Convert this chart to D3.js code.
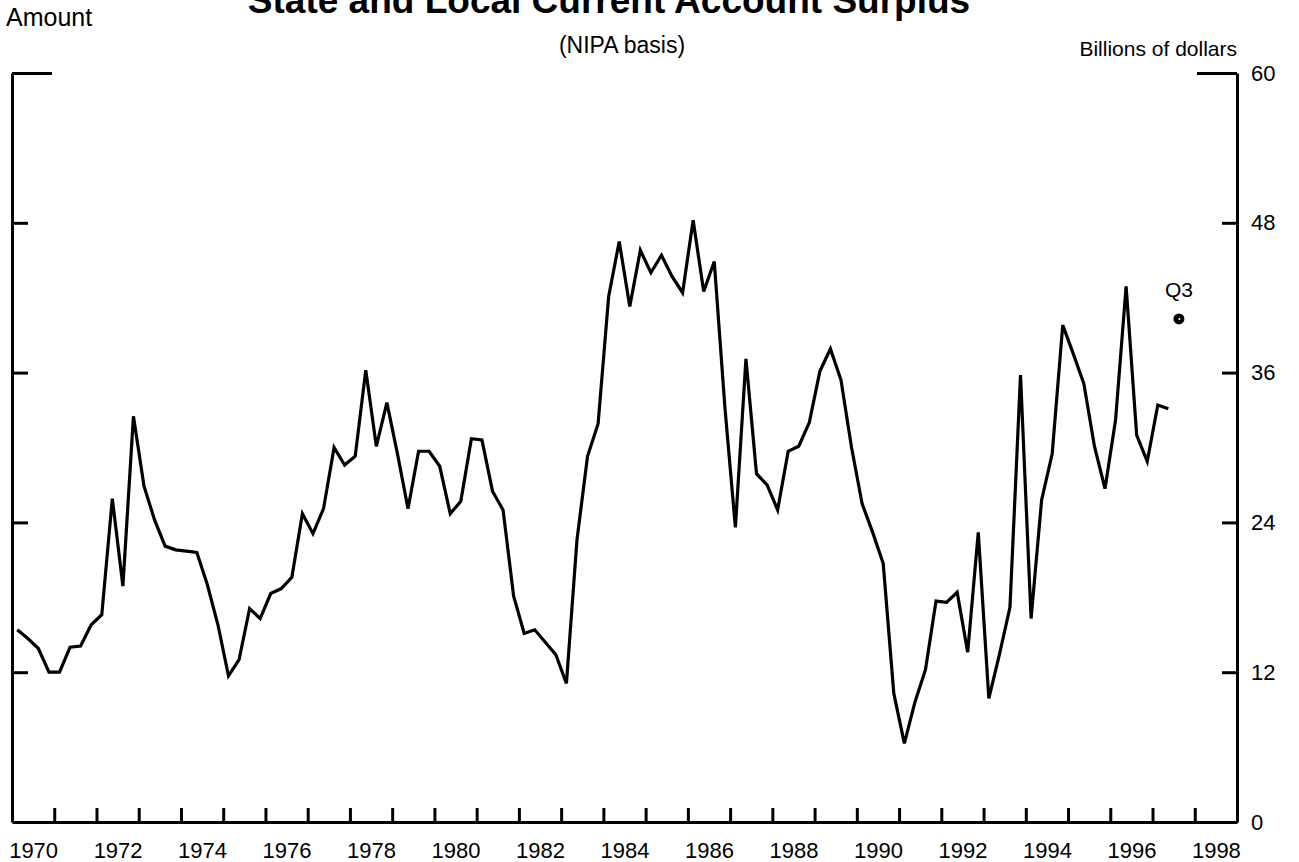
<!DOCTYPE html>
<html>
<head>
<meta charset="utf-8">
<script src="https://cdn.jsdelivr.net/npm/d3@7"></script>
<style>
  body { margin: 0; background: #fff; }
  svg { display: block; font-family: "Liberation Sans", Arial, Helvetica, sans-serif; }
</style>
</head>
<body>
<div id="chart"></div>
<script>
// quarterly surplus, billions of dollars, 1970Q1 .. 1997Q2
const firstYear = 1970;
const surplus = [
  15.4, 14.7, 13.9, 12.0,   // 1970
  12.0, 14.0, 14.1, 15.8,   // 1971
  16.6, 25.9, 18.9, 32.5,   // 1972
  26.9, 24.2, 22.1, 21.8,   // 1973
  21.7, 21.6, 19.0, 15.8,   // 1974
  11.7, 13.0, 17.1, 16.3,   // 1975
  18.3, 18.7, 19.6, 24.7,   // 1976
  23.1, 25.1, 30.0, 28.6,   // 1977
  29.3, 36.2, 30.1, 33.6,   // 1978
  29.5, 25.1, 29.7, 29.7,   // 1979
  28.5, 24.7, 25.7, 30.7,   // 1980
  30.6, 26.5, 25.0, 18.1,   // 1981
  15.1, 15.4, 14.4, 13.4,   // 1982
  11.1, 22.6, 29.3, 31.9,   // 1983
  42.1, 46.5, 41.3, 45.8,   // 1984
  44.0, 45.4, 43.7, 42.4,   // 1985
  48.2, 42.5, 44.9, 33.3,   // 1986
  23.6, 37.1, 27.9, 27.0,   // 1987
  25.0, 29.7, 30.1, 32.0,   // 1988
  36.1, 37.9, 35.4, 30.0,   // 1989
  25.5, 23.2, 20.7, 10.3,   // 1990
  6.3, 9.6, 12.2, 17.7,     // 1991
  17.6, 18.4, 13.6, 23.2,   // 1992
  9.9, 13.4, 17.2, 35.8,    // 1993
  16.3, 25.8, 29.5, 39.8,   // 1994
  37.5, 35.1, 30.1, 26.7,   // 1995
  32.2, 42.9, 31.0, 28.9,   // 1996
  33.4, 33.1                // 1997
];

// partial-year point
const q3Label = "Q3";
const q3Year = 1997;
const q3Quarter = 3;
const q3Value = 40.3;

const yearLabels = [1970, 1972, 1974, 1976, 1978, 1980, 1982, 1984, 1986, 1988, 1990, 1992, 1994, 1996, 1998];
const yearTicks = d3.range(1971, 1999);
const yTicks = [0, 12, 24, 36, 48, 60];

const width = 1299, height = 862;

const svg = d3.select("#chart")
  .append("svg")
  .attr("width", width)
  .attr("height", height);

const x = d3.scaleLinear()
  .domain([1970, 1999])
  .range([12, 1237]);

const y = d3.scaleLinear()
  .domain([0, 60])
  .range([822, 73]);

const qTime = (year, q) => year + (q - 0.5) / 4;

const data = surplus.map((v, i) => ({
  t: qTime(firstYear + Math.floor(i / 4), (i % 4) + 1),
  v: v
}));

// titles (top of the title is cut off in the original)
svg.append("text")
  .attr("x", 609)
  .attr("y", 13)
  .attr("text-anchor", "middle")
  .attr("font-size", 37)
  .attr("font-weight", "bold")
  .text("State and Local Current Account Surplus");

svg.append("text")
  .attr("x", 622)
  .attr("y", 53)
  .attr("text-anchor", "middle")
  .attr("font-size", 23)
  .text("(NIPA basis)");

svg.append("text")
  .attr("x", 6)
  .attr("y", 26)
  .attr("font-size", 25)
  .text("Amount");

svg.append("text")
  .attr("x", 1237)
  .attr("y", 56)
  .attr("text-anchor", "end")
  .attr("font-size", 21)
  .text("Billions of dollars");

// x axis: year ticks pointing up, labels centred in year
svg.append("g")
  .attr("transform", "translate(0,822)")
  .call(d3.axisBottom(x)
    .tickValues(yearTicks)
    .tickSizeInner(-14)
    .tickSizeOuter(0)
    .tickFormat(""));

svg.append("g")
  .attr("transform", "translate(0,822)")
  .call(d3.axisBottom(x)
    .tickValues(yearLabels.map(d => d + 0.5))
    .tickSize(0)
    .tickPadding(20)
    .tickFormat(d => String(Math.floor(d))))
  .call(g => g.select(".domain").remove())
  .selectAll("text")
  .attr("font-size", 22)
  .attr("fill", "#000");

// left axis
const leftAxis = svg.append("g")
  .attr("transform", "translate(12,0)")
  .call(d3.axisLeft(y)
    .tickValues(yTicks.filter(d => d > 0))
    .tickSizeInner(-16)
    .tickSizeOuter(0)
    .tickFormat(""));
leftAxis.selectAll(".tick line").filter(d => d === 60).attr("x2", 40);

// right axis
const rightAxis = svg.append("g")
  .attr("transform", "translate(1237,0)")
  .call(d3.axisRight(y)
    .tickValues(yTicks.filter(d => d > 0))
    .tickSizeInner(-15)
    .tickSizeOuter(0)
    .tickFormat(""));
rightAxis.selectAll(".tick line").filter(d => d === 60).attr("x2", -40);

svg.append("g")
  .attr("transform", "translate(1237,0)")
  .call(d3.axisRight(y)
    .tickValues(yTicks)
    .tickSize(0)
    .tickPadding(14))
  .call(g => g.select(".domain").remove())
  .selectAll("text")
  .attr("font-size", 22)
  .attr("fill", "#000");

svg.selectAll(".domain, .tick line")
  .attr("stroke", "#000")
  .attr("stroke-width", 3);

// series line
svg.append("path")
  .datum(data)
  .attr("fill", "none")
  .attr("stroke", "#000")
  .attr("stroke-width", 3.2)
  .attr("stroke-linejoin", "miter")
  .attr("d", d3.line()
    .x(d => x(d.t))
    .y(d => y(d.v)));

// Q3 point
const qx = x(qTime(q3Year, q3Quarter));
const qy = y(q3Value);
svg.append("circle")
  .attr("cx", qx)
  .attr("cy", qy)
  .attr("r", 5.5)
  .attr("fill", "#000");
svg.append("circle")
  .attr("cx", qx + 0.5)
  .attr("cy", qy)
  .attr("r", 1)
  .attr("fill", "#fff");
svg.append("text")
  .attr("x", qx)
  .attr("y", qy - 22)
  .attr("text-anchor", "middle")
  .attr("font-size", 21)
  .text(q3Label);
</script>
</body>
</html>
